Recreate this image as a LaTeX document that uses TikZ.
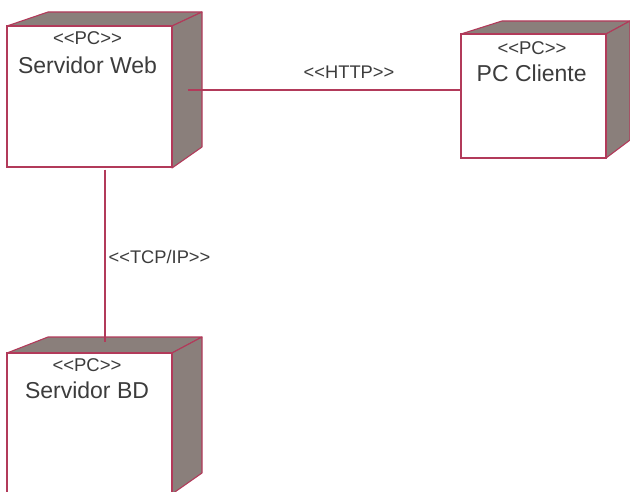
\documentclass[tikz,border=0pt]{standalone}
\usepackage{fontspec}
\setmainfont{Liberation Sans}[Ligatures=TeXOff]
\usetikzlibrary{calc}
\definecolor{edge}{HTML}{B23A5A}
\definecolor{side}{HTML}{8A7F7B}
\definecolor{ink}{HTML}{3C3C3C}
\begin{document}
\begin{tikzpicture}[x=1pt,y=-1pt,
  front/.style={draw=edge,line width=1.1pt,fill=white,inner sep=0pt,rectangle},
  depth/.style={draw=edge,line width=1.1pt,fill=side,line join=round},
  st/.style={text=ink,font=\fontsize{18.5}{21}\selectfont,inner sep=0pt},
  nm/.style={text=ink,font=\fontsize{23}{26}\selectfont,inner sep=0pt},
  lbl/.style={text=ink,font=\fontsize{18.3}{21}\selectfont,inner sep=0pt},
  conn/.style={draw=edge,line width=1.2pt}]
\useasboundingbox (0,0) rectangle (630,492);
\clip (0,0) rectangle (630,492);
% Servidor Web
\draw[depth] (7,26) -- (48,12) -- (202,12) -- (172,26) -- cycle;
\draw[depth] (172,26) -- (202,12) -- (202,147) -- (172,168) -- cycle;
\node[front,minimum width=165pt,minimum height=141pt] (web) at (89.5,96.5) {};
\node[st] (webst) at (87.5,38) {<<PC>>};
\node[nm] (webnm) at (87.5,65) {Servidor Web};
% PC Cliente
\draw[depth] (461,34) -- (502,21) -- (630,21) -- (606,34) -- cycle;
\draw[depth] (606,34) -- (630,21) -- (630,140) -- (606,158) -- cycle;
\node[front,minimum width=145pt,minimum height=124pt] (pc) at (533.5,96) {};
\node[st] (pcst) at (532,48) {<<PC>>};
\node[nm] (pcnm) at (531.7,73) {PC Cliente};
% Servidor BD
\draw[depth] (7,353) -- (48,337) -- (202,337) -- (172,353) -- cycle;
\draw[depth] (172,353) -- (202,337) -- (202,473) -- (172,494) -- cycle;
\node[front,minimum width=165pt,minimum height=141pt] (bd) at (89.5,423.5) {};
\node[st] (bdst) at (87,365) {<<PC>>};
\node[nm] (bdnm) at (87,390) {Servidor BD};
% connectors
\draw[conn] ([xshift=15pt]web.east |- 0,90) -- (pc.west |- 0,90);
\node[lbl] (http) at (349,72) {<<HTTP>>};
\draw[conn] ([yshift=-2pt]web.south -| 105,0) -- ([yshift=10pt]bd.north -| 105,0);
\node[lbl] (tcp) at (159.5,257) {<<TCP/IP>>};
\end{tikzpicture}
\end{document}
